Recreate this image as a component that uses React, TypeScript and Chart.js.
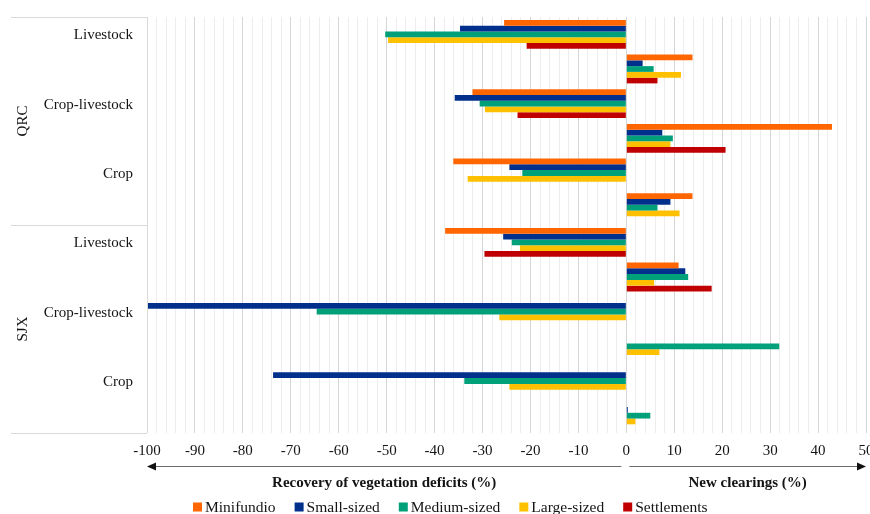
import { useEffect, useRef } from "react";
import { Chart, registerables } from "chart.js";

Chart.register(...registerables);

// Study areas and production systems
const groups = ["QRC", "SJX"];
const systems = ["Livestock", "Crop-livestock", "Crop"];

// Farm-size classes
const seriesNames = ["Minifundio", "Small-sized", "Medium-sized", "Large-sized", "Settlements"];
const seriesColors = ["#FF6600", "#002F8C", "#00A07A", "#FFC000", "#C00000"];

// Recovery of vegetation deficits (%)
// order: QRC Livestock, QRC Crop-livestock, QRC Crop, SJX Livestock, SJX Crop-livestock, SJX Crop
const recoveryMinifundio = [-25.5, -32.1, -36.1, -37.8, null, null];
const recoverySmall = [-34.7, -35.8, -24.4, -25.7, -100, -73.7];
const recoveryMedium = [-50.3, -30.6, -21.7, -23.9, -64.6, -33.8];
const recoveryLarge = [-49.7, -29.5, -33.1, -22.2, -26.5, -24.4];
const recoverySettlements = [-20.8, -22.7, null, -29.6, null, null];

// New clearings (%) in the same order
const clearingMinifundio = [13.8, 42.9, 13.8, 10.9, null, null];
const clearingSmall = [3.4, 7.5, 9.2, 12.3, null, 0.3];
const clearingMedium = [5.7, 9.7, 6.5, 12.9, 31.9, 5.0];
const clearingLarge = [11.4, 9.2, 11.1, 5.8, 6.9, 1.9];
const clearingSettlements = [6.5, 20.7, null, 17.8, null, null];

const xTickLabels = [-100, -90, -80, -70, -60, -50, -40, -30, -20, -10, 0, 10, 20, 30, 40, 50];

const recoverySeries = [recoveryMinifundio, recoverySmall, recoveryMedium, recoveryLarge, recoverySettlements];
const clearingSeries = [clearingMinifundio, clearingSmall, clearingMedium, clearingLarge, clearingSettlements];

// Each system takes two rows: recovery (labelled) then new clearings (unlabelled)
const rowLabels: string[] = [];
groups.forEach(() => systems.forEach((s) => rowLabels.push(s, "")));

const interleave = (rec: (number | null)[], clr: (number | null)[]) => {
  const out: (number | null)[] = [];
  rec.forEach((v, i) => out.push(v, clr[i]));
  return out;
};

const FONT = "'Liberation Serif', 'Times New Roman', serif";
const TEXT = "#141414";

const decorations = {
  id: "decorations",
  afterDraw(chart: any) {
    const { ctx, chartArea, scales } = chart;
    const x = scales.x;
    const y = scales.y;
    const left = chartArea.left;
    const top = chartArea.top;
    const bottom = chartArea.bottom;
    const mid = (y.getPixelForValue(5) + y.getPixelForValue(6)) / 2;

    ctx.save();

    // Frame of the category panel
    ctx.strokeStyle = "#d9d9d9";
    ctx.lineWidth = 1;
    ctx.beginPath();
    [top, mid, bottom].forEach((yy) => {
      const py = Math.round(yy) + 0.5;
      ctx.moveTo(11, py);
      ctx.lineTo(left, py);
    });
    ctx.moveTo(Math.round(left) + 0.5, top);
    ctx.lineTo(Math.round(left) + 0.5, bottom);
    ctx.stroke();

    // System labels
    ctx.fillStyle = TEXT;
    ctx.font = `15px ${FONT}`;
    ctx.textAlign = "right";
    ctx.textBaseline = "middle";
    rowLabels.forEach((label, i) => {
      if (label) ctx.fillText(label, 133, y.getPixelForValue(i) + 1);
    });

    // Study-area labels (rotated)
    ctx.textAlign = "center";
    groups.forEach((g, gi) => {
      const a = gi === 0 ? top : mid;
      const b = gi === 0 ? mid : bottom;
      ctx.save();
      ctx.translate(23, (a + b) / 2);
      ctx.rotate(-Math.PI / 2);
      ctx.fillText(g, 0, 0);
      ctx.restore();
    });

    // X tick labels
    xTickLabels.forEach((v) => {
      ctx.fillText(String(v), x.getPixelForValue(v), 451);
    });

    // Direction arrows
    const zero = x.getPixelForValue(0);
    const xMin = x.getPixelForValue(-100);
    const xMax = x.getPixelForValue(50);
    const ay = 466.5;
    ctx.strokeStyle = "#6a6a6a";
    ctx.beginPath();
    ctx.moveTo(zero - 5, ay);
    ctx.lineTo(xMin + 6, ay);
    ctx.moveTo(zero + 3, ay);
    ctx.lineTo(xMax - 6, ay);
    ctx.stroke();
    ctx.fillStyle = "#111";
    ctx.beginPath();
    ctx.moveTo(xMin, ay);
    ctx.lineTo(xMin + 9, ay - 4);
    ctx.lineTo(xMin + 9, ay + 4);
    ctx.closePath();
    ctx.fill();
    ctx.beginPath();
    ctx.moveTo(xMax, ay);
    ctx.lineTo(xMax - 9, ay - 4);
    ctx.lineTo(xMax - 9, ay + 4);
    ctx.closePath();
    ctx.fill();

    // Axis titles
    ctx.fillStyle = TEXT;
    ctx.font = `bold 15px ${FONT}`;
    ctx.fillText("Recovery of vegetation deficits (%)", (zero - 5 + xMin) / 2, 483);
    ctx.fillText("New clearings (%)", (zero + 3 + xMax) / 2, 483);

    // Legend
    ctx.font = `15.5px ${FONT}`;
    ctx.textAlign = "left";
    let lx = 193;
    const ly = 507;
    chart.data.datasets.forEach((ds: any) => {
      ctx.fillStyle = ds.backgroundColor;
      ctx.fillRect(lx, ly - 4.5, 9, 9);
      ctx.fillStyle = TEXT;
      ctx.fillText(ds.label, lx + 12, ly + 1);
      lx += 12 + ctx.measureText(ds.label).width + 19;
    });

    ctx.restore();
  },
};

export default function App() {
  const canvasRef = useRef<HTMLCanvasElement | null>(null);

  useEffect(() => {
    if (!canvasRef.current) return;
    const chart = new Chart(canvasRef.current, {
      type: "bar",
      data: {
        labels: rowLabels,
        datasets: seriesNames.map((name, i) => ({
          label: name,
          data: interleave(recoverySeries[i], clearingSeries[i]),
          backgroundColor: seriesColors[i],
          borderWidth: 0,
          categoryPercentage: 0.83,
          barPercentage: 1,
        })),
      },
      options: {
        indexAxis: "y",
        responsive: false,
        animation: false,
        devicePixelRatio: 1,
        layout: { padding: { left: 147, right: 4, top: 17, bottom: 81 } },
        plugins: {
          legend: { display: false },
          tooltip: { enabled: false },
        },
        scales: {
          x: {
            type: "linear",
            min: -100,
            max: 50,
            ticks: { display: false, stepSize: 2, maxTicksLimit: 200 },
            grid: {
              drawTicks: false,
              lineWidth: 1,
              color: (c: any) =>
                c.tick && Math.abs(Math.round(c.tick.value)) % 10 === 0 ? "#d6d6d6" : "#ededed",
            },
            border: { display: false },
          },
          y: {
            type: "category",
            display: false,
            offset: true,
            grid: { display: false },
          },
        },
      } as any,
      plugins: [decorations],
    });
    return () => chart.destroy();
  }, []);

  return (
    <div style={{ position: "absolute", left: 0, top: 0, width: 870, height: 514, background: "#fff" }}>
      <canvas ref={canvasRef} width={870} height={514} style={{ display: "block" }} />
    </div>
  );
}
